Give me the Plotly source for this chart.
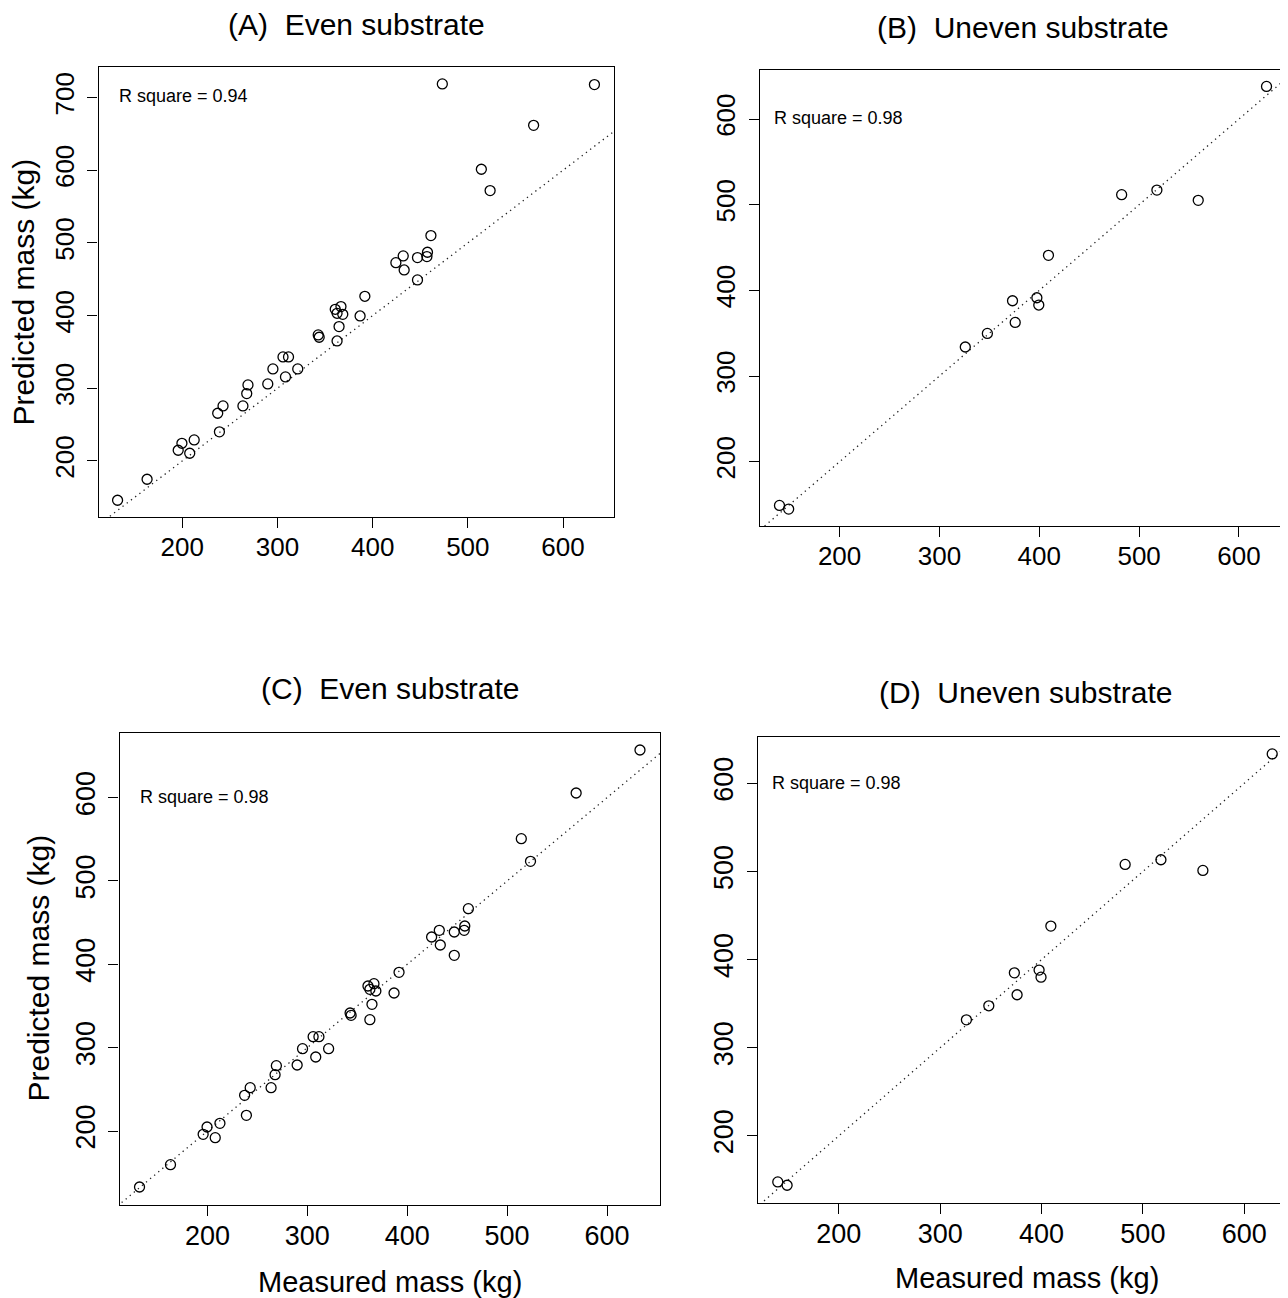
import plotly.graph_objects as go

# ---------------- data ----------------
measured_even = [633, 473.2, 569.1, 514.2, 523.4, 461.2, 457.6, 457.0, 432.1, 447.1,
                 424.4, 433.1, 447.1, 391.8, 360.7, 366.7, 362.6, 368.6, 386.8, 364.7,
                 362.6, 342.8, 343.8, 305.8, 311.6, 295.2, 321.3, 308.4, 269.0, 267.7,
                 289.8, 263.7, 242.8, 237.2, 239.0, 212.5, 199.6, 195.7, 207.8, 163.0, 132.0]
pred_even_A = [717.9, 718.8, 661.9, 601.4, 572.0, 510.1, 487.2, 481.2, 482.1, 479.8,
               472.9, 462.8, 449.1, 426.6, 408.7, 412.4, 403.2, 401.8, 399.5, 384.9,
               365.1, 373.4, 370.2, 343.1, 343.1, 326.6, 326.6, 315.6, 304.6, 292.7,
               306.0, 275.7, 275.7, 265.6, 240.0, 228.9, 224.3, 214.7, 210.6, 174.8, 145.9]
pred_even_C = [657.2, None, 605.6, 550.8, 523.6, 466.8, 446.0, 440.8, 440.8, 438.8,
               432.8, 423.2, 410.8, 390.4, 374.0, 376.8, 370.0, 368.0, 365.6, 352.0,
               333.6, 341.6, 338.8, 313.2, 313.2, 298.8, 298.8, 288.8, 278.4, 267.6,
               279.2, 252.0, 252.0, 242.8, 218.8, 209.2, 204.8, 196.0, 192.0, 159.6, 132.8]

measured_uneven = [627.6, 482.5, 517.8, 559.2, 409.2, 373.2, 397.6, 399.5, 375.9, 348.0,
                   325.9, 139.8, 149.0]
pred_uneven_B = [638.1, 511.7, 517.1, 505.1, 440.9, 387.9, 391.4, 382.9, 362.6, 349.8,
                 333.9, 149.0, 144.7]
pred_uneven_D = [633.3, 508.0, 513.3, 501.2, 438.0, 385.0, 388.1, 380.1, 360.1, 347.6,
                 331.7, 147.8, 144.0]

panel_titles = ["(A)  Even substrate", "(B)  Uneven substrate",
                "(C)  Even substrate", "(D)  Uneven substrate"]
r_square = ["0.94", "0.98", "0.98", "0.98"]
x_ticks = [200, 300, 400, 500, 600]
y_ticks_A = [200, 300, 400, 500, 600, 700]
y_ticks_other = [200, 300, 400, 500, 600]
x_label = "Measured mass (kg)"
y_label = "Predicted mass (kg)"

# ---------------- layout helpers ----------------
# The page body has an 8px margin, so every screen position is shifted by OFF.
OFF = 8
W, H = 1288, 1298 - OFF
FONT = "Liberation Sans, Arial, Helvetica, sans-serif"


def px_x(p):
    return (p - OFF) / W


def px_y(p):
    return 1 - (p - OFF) / H


def r_range(vals):
    v = [a for a in vals if a is not None]
    lo, hi = min(v), max(v)
    d = hi - lo
    return [lo - 0.04 * d, hi + 0.04 * d]


# panel boxes in screen pixels: left, right, top, bottom
panels = [
    dict(x=measured_even, y=pred_even_A, box=(98.5, 613.5, 67.3, 516.9), yt=y_ticks_A,
         tick=26, title_y=24, rsq=(116.5, 96.5)),
    dict(x=measured_uneven, y=pred_uneven_B, box=(760, 1286, 69.5, 526), yt=y_ticks_other,
         tick=26, title_y=27, rsq=(772.5, 118.5)),
    dict(x=measured_even, y=pred_even_C, box=(119.5, 660, 732.5, 1204.5), yt=y_ticks_other,
         tick=27, title_y=688, rsq=(138, 797)),
    dict(x=measured_uneven, y=pred_uneven_D, box=(758, 1292, 736.7, 1202.5), yt=y_ticks_other,
         tick=27, title_y=692, rsq=(770, 783)),
]

fig = go.Figure()
annotations = []
layout_axes = {}

for i, p in enumerate(panels):
    n = "" if i == 0 else str(i + 1)
    xr = r_range(p["x"])
    yr = r_range(p["y"])
    l, r, t, b = p["box"]
    # 1:1 reference line
    fig.add_trace(go.Scatter(x=[0, 1000], y=[0, 1000], mode="lines",
                             line=dict(color="#222222", width=1.3, dash="1.3px,4px"),
                             xaxis="x" + n, yaxis="y" + n, showlegend=False,
                             hoverinfo="skip"))
    fig.add_trace(go.Scatter(x=p["x"], y=p["y"], mode="markers",
                             marker=dict(symbol="circle-open", size=10, color="black",
                                         line=dict(width=1.3, color="black")),
                             xaxis="x" + n, yaxis="y" + n, showlegend=False))
    common = dict(showline=True, linecolor="black", linewidth=1.3, mirror=True,
                  ticks="outside", ticklen=10, tickwidth=1.2, tickcolor="black",
                  showgrid=False, zeroline=False,
                  tickfont=dict(family=FONT, size=p["tick"], color="black"))
    layout_axes["xaxis" + n] = dict(common, domain=[px_x(l), px_x(r)], range=xr,
                                    tickvals=x_ticks, anchor="y" + n,
                                    ticklabelstandoff=-3)
    layout_axes["yaxis" + n] = dict(common, domain=[px_y(b), px_y(t)], range=yr,
                                    tickvals=p["yt"], tickangle=-90, anchor="x" + n,
                                    ticklabelstandoff=3)
    annotations.append(dict(text=panel_titles[i], x=px_x((p["box"][0] + p["box"][1]) / 2),
                            y=px_y(p["title_y"]), xref="paper", yref="paper",
                            xanchor="center", yanchor="middle", showarrow=False,
                            font=dict(family=FONT, size=30, color="black")))
    annotations.append(dict(text="R square = " + r_square[i], x=px_x(p["rsq"][0]),
                            y=px_y(p["rsq"][1]), xref="paper", yref="paper",
                            xanchor="left", yanchor="middle", showarrow=False,
                            font=dict(family=FONT, size=18, color="black")))

# axis titles (only on outer panels)
annotations.append(dict(text=y_label, x=px_x(23.5), y=px_y((67.3 + 516.9) / 2), xref="paper",
                        yref="paper", textangle=-90, showarrow=False, xanchor="center",
                        yanchor="middle", borderpad=0,
                        font=dict(family=FONT, size=30, color="black")))
annotations.append(dict(text=y_label, x=px_x(38), y=px_y((732.5 + 1204.5) / 2), xref="paper",
                        yref="paper", textangle=-90, showarrow=False, xanchor="center",
                        yanchor="middle", borderpad=0,
                        font=dict(family=FONT, size=30, color="black")))
annotations.append(dict(text=x_label, x=px_x((119.5 + 660) / 2), y=px_y(1282), xref="paper",
                        yref="paper", showarrow=False, xanchor="center", yanchor="middle",
                        font=dict(family=FONT, size=29, color="black")))
annotations.append(dict(text=x_label, x=px_x(1027), y=px_y(1278), xref="paper",
                        yref="paper", showarrow=False, xanchor="center", yanchor="middle",
                        font=dict(family=FONT, size=29, color="black")))

fig.update_layout(width=W, height=H, margin=dict(l=0, r=0, t=0, b=0),
                  paper_bgcolor="white", plot_bgcolor="white",
                  annotations=annotations, showlegend=False, **layout_axes)

fig.write_html("out.html")
